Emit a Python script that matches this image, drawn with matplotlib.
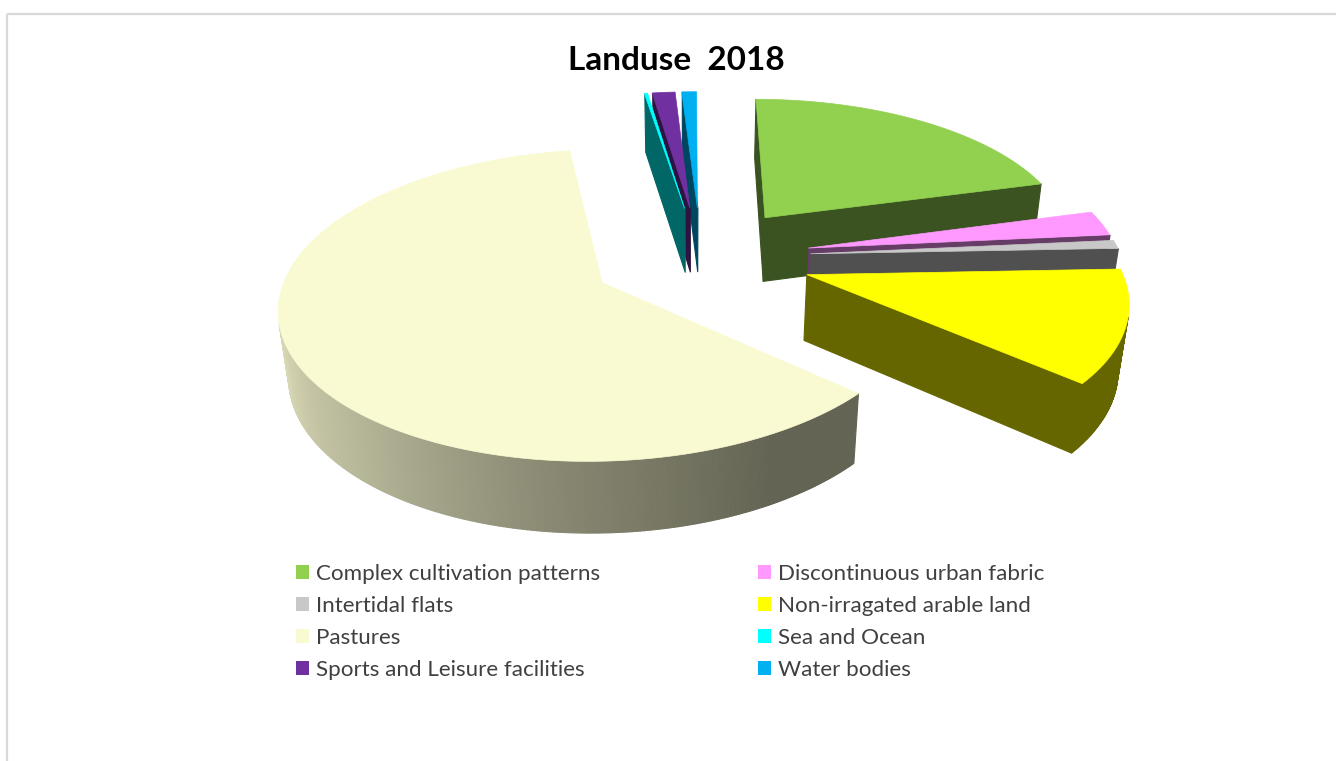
import numpy as np
import matplotlib
matplotlib.use("Agg")
import matplotlib.pyplot as plt
from matplotlib.collections import PolyCollection
from matplotlib.patches import Patch, Rectangle, Polygon

# Land-use shares, percent of total area
categories = ["Complex cultivation patterns", "Discontinuous urban fabric",
              "Intertidal flats", "Non-irragated arable land", "Pastures",
              "Sea and Ocean", "Sports and Leisure facilities", "Water bodies"]
shares = [20.8, 2.7, 0.9, 12.0, 61.1, 0.2, 1.4, 0.9]
colors = ["#92D050", "#FF99FF", "#C8C8C8", "#FFFF00",
          "#FAFAD2", "#00FFFF", "#7030A0", "#00B0F0"]

# Camera model for the tilted pie: unit disc coordinates to pixels
CX, CY = 690.0, 264.5
SCALE_X, SCALE_Y, LIFT = 313.0, 147.5, 67.0
TILT, DEPTH = 0.142, 0.025
CENTER = (0.035, -0.05)
EXPLODE = 0.355
WALL_DARK = 0.4


def project(x, y, z=0.0):
    w = 1 - TILT * y + DEPTH * z
    return CX + SCALE_X * x / w, CY + (SCALE_Y * y + LIFT * z) / w


def rim_shade(theta):
    # lighting across the curved outer wall, by clockwise angle from the top
    return np.interp(theta, [100, 131, 150, 180, 220, 250, 275],
                     [.40, .40, .40, .52, .72, .85, .90])


def signed_area(q):
    x, y = np.array(q).T
    return 0.5 * np.sum(x * np.roll(y, -1) - np.roll(x, -1) * y)


def darken(color, f):
    return tuple(np.array(matplotlib.colors.to_rgb(color)) * f)


fig = plt.figure(figsize=(13.36, 7.61), dpi=100, facecolor="white")
ax = fig.add_axes([0, 0, 1, 1])
ax.set_xlim(0, 1336)
ax.set_ylim(761, 0)
ax.axis("off")

# Frame of the chart area, running off the right and bottom edges
ax.add_patch(Rectangle((7, 14), 1400, 800, fill=False, ec="#D9D9D9", lw=1.6))

edges = np.concatenate([[0], np.cumsum(shares)]) / sum(shares) * 360
slices = []
for i, color in enumerate(colors):
    t0, t1 = edges[i], edges[i + 1]
    mid = np.radians((t0 + t1) / 2)
    ax0 = CENTER[0] + EXPLODE * np.sin(mid)
    ay0 = CENTER[1] - EXPLODE * np.cos(mid)
    slices.append((ay0, ax0, t0, t1, color))

# Back-to-front so nearer slices cover the ones behind them
for ay0, ax0, t0, t1, color in sorted(slices, key=lambda s: s[0]):
    th = np.linspace(t0, t1, max(2, int((t1 - t0) * 2) + 2))
    rx = ax0 + np.sin(np.radians(th))
    ry = ay0 - np.cos(np.radians(th))

    polys, fills = [], []

    def add_face(p, q, fill):
        quad = [project(p[0], p[1]), project(q[0], q[1]),
                project(q[0], q[1], 1), project(p[0], p[1], 1)]
        if signed_area(quad) < 0:
            polys.append(quad)
            fills.append(fill)

    add_face((ax0, ay0), (rx[0], ry[0]), darken(color, WALL_DARK))
    add_face((rx[-1], ry[-1]), (ax0, ay0), darken(color, WALL_DARK))
    for j in range(len(th) - 1):
        add_face((rx[j], ry[j]), (rx[j + 1], ry[j + 1]),
                 darken(color, rim_shade((th[j] + th[j + 1]) / 2)))
    if polys:
        ax.add_collection(PolyCollection(polys, facecolors=fills,
                                         edgecolors=fills, linewidths=0.8))

    top = [project(ax0, ay0)] + [project(a, b) for a, b in zip(rx, ry)]
    ax.add_patch(Polygon(top, closed=True, fc=color, ec=color, lw=0.5))

ax.text(676, 60, "Landuse  2018", ha="center", va="center",
        fontsize=24, fontweight="bold", family="Lato", color="black")

# Legend reads across rows, so hand matplotlib the entries column by column
order = [0, 2, 4, 6, 1, 3, 5, 7]
handles = [Patch(facecolor=colors[i], edgecolor="none", label=categories[i])
           for i in order]
ax.legend(handles=handles, ncol=2, frameon=False, loc="upper left",
          bbox_to_anchor=(296 / 1336, 1 - 564 / 761),
          prop={"family": "Lato", "size": 16.1}, labelcolor="#404040",
          handlelength=0.58, handleheight=0.58, handletextpad=0.31,
          columnspacing=7.05, labelspacing=0.535, borderpad=0, borderaxespad=0)

fig.savefig("out.png", dpi=100, facecolor="white")
